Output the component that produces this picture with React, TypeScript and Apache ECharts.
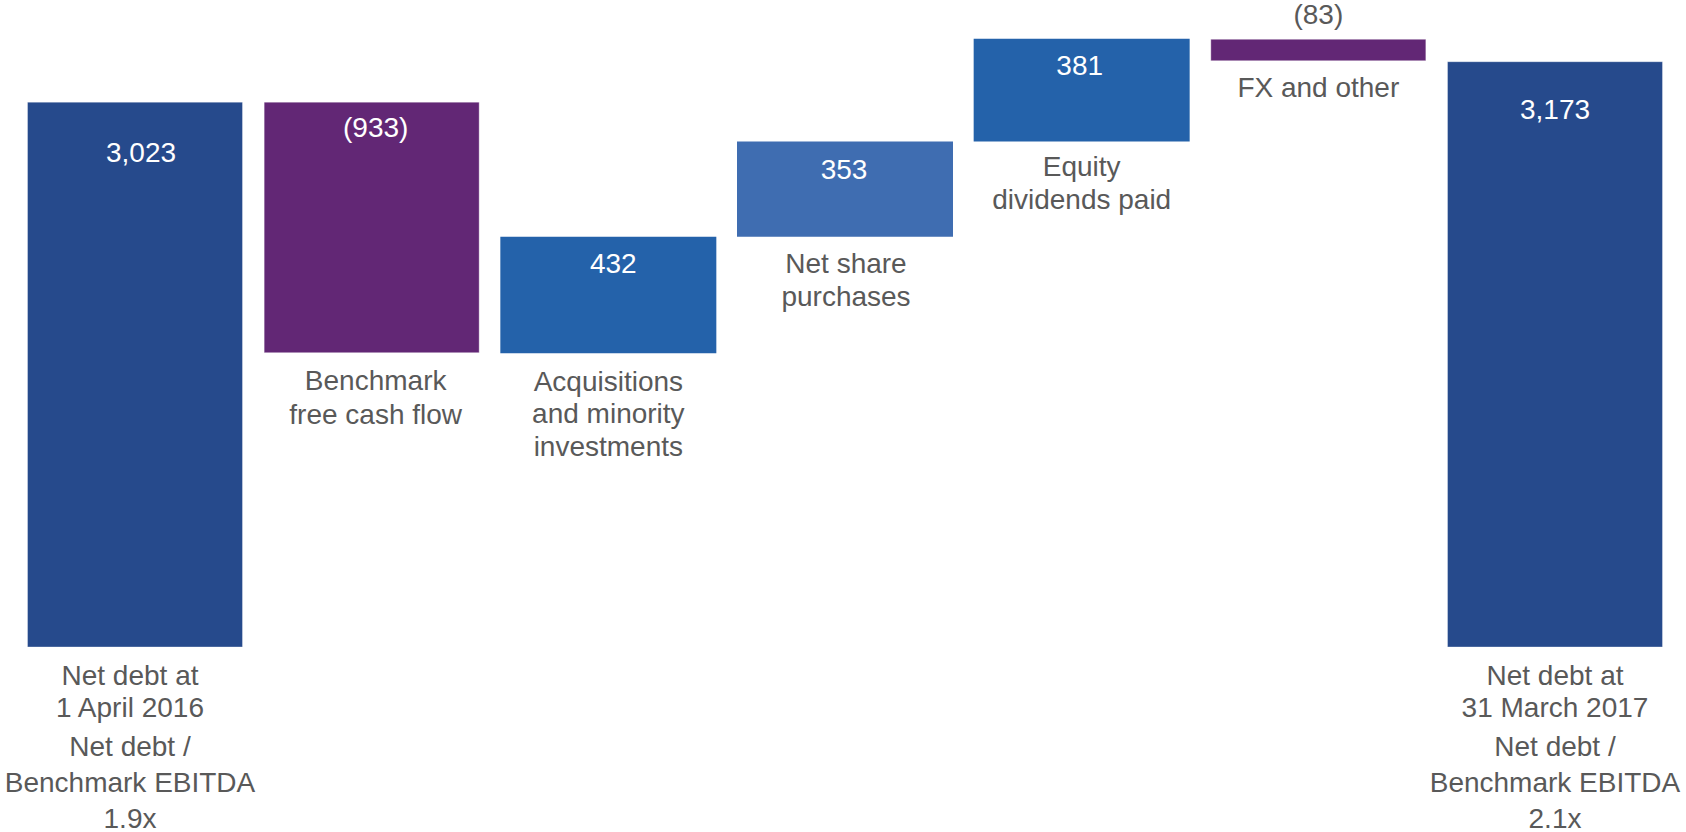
import React, { useEffect, useRef } from 'react';
import * as echarts from 'echarts';

const categories = [
  'Net debt at 1 April 2016',
  'Benchmark free cash flow',
  'Acquisitions and minority investments',
  'Net share purchases',
  'Equity dividends paid',
  'FX and other',
  'Net debt at 31 March 2017',
];
const categoryLabels = [
  'Net debt at\n1 April 2016',
  'Benchmark\nfree cash flow',
  'Acquisitions\nand minority\ninvestments',
  'Net share\npurchases',
  'Equity\ndividends paid',
  'FX and other',
  'Net debt at\n31 March 2017',
];
const ratioLines = [
  ['Net debt /', 'Benchmark EBITDA', '1.9x'],
  [],
  [],
  [],
  [],
  [],
  ['Net debt /', 'Benchmark EBITDA', '2.1x'],
];
const changes = [3023, -933, 432, 353, 381, -83, 3173];
const isTotal = [true, false, false, false, false, false, true];
const valueLabels = ['3,023', '(933)', '432', '353', '381', '(83)', '3,173'];
const barColors = ['#264a8c', '#622775', '#2462aa', '#3f6db1', '#2462aa', '#622775', '#264a8c'];

const FONT = 'Liberation Sans, Arial, Helvetica, sans-serif';
const GREY = '#595959';
const W = 1686;
const H = 832;

export default function App() {
  const ref = useRef<HTMLDivElement>(null);

  useEffect(() => {
    const chart = echarts.init(ref.current!, null, { renderer: 'svg', width: W, height: H });

    // waterfall levels
    const bases: (number | null)[] = [];
    const heights: (number | null)[] = [];
    let level = 0;
    changes.forEach((c, i) => {
      if (isTotal[i]) {
        level = c;
        bases.push(null);
        heights.push(null);
      } else {
        const prev = level;
        level = prev + c;
        bases.push(Math.min(prev, level));
        heights.push(Math.abs(c));
      }
    });

    const catDistance = [0, 11, 12, 10, 8, 10, 0];
    const catLineHeight = [0, 33.5, 32.5, 33.5, 33.5, 33.5, 0];
    const catOffsetX = [0, 4, 0, 1, 0, 0, 0];
    const valDistance = [34, 9, 10, 11, 10, 9, 31];
    const valOffsetX = [6, 4, 5, -1, -2, 0, 0];

    const borderFor = (i: number) =>
      barColors[i] === '#264a8c' || barColors[i] === '#622775'
        ? { borderColor: 'rgba(255,255,255,0.35)', borderWidth: 1 }
        : {};

    const baseData = categories.map((_, i) =>
      isTotal[i]
        ? '-'
        : {
            value: bases[i],
            label: {
              show: true,
              formatter: categoryLabels[i],
              distance: catDistance[i],
              lineHeight: catLineHeight[i],
              offset: [catOffsetX[i], 0],
            },
          }
    );

    const changeData = categories.map((_, i) =>
      isTotal[i]
        ? '-'
        : {
            value: heights[i],
            itemStyle: { color: barColors[i], ...borderFor(i) },
            label:
              i === 5
                ? {
                    show: true,
                    position: 'top',
                    color: GREY,
                    formatter: valueLabels[i],
                    distance: valDistance[i],
                    lineHeight: 30,
                    offset: [valOffsetX[i], 0],
                  }
                : {
                    show: true,
                    position: 'insideTop',
                    color: '#ffffff',
                    formatter: valueLabels[i],
                    distance: valDistance[i],
                    offset: [valOffsetX[i], 0],
                  },
          }
    );

    const totalData = categories.map((_, i) =>
      isTotal[i]
        ? {
            value: changes[i],
            itemStyle: { color: barColors[i], ...borderFor(i) },
            label: {
              show: true,
              position: 'insideTop',
              color: '#ffffff',
              formatter: valueLabels[i],
              distance: valDistance[i],
              offset: [valOffsetX[i], 0],
            },
          }
        : '-'
    );

    const option: any = {
      animation: false,
      grid: { left: 16.67, right: 12.67, top: 0, bottom: 175, containLabel: false },
      xAxis: {
        type: 'category',
        data: categories,
        axisLine: { show: false },
        axisTick: { show: false },
        axisLabel: {
          interval: 0,
          margin: 12,
          color: GREY,
          fontSize: 28,
          fontFamily: FONT,
          formatter: (_v: string, i: number) => {
            if (!isTotal[i]) return '';
            const sfx = i === 0 ? 'L' : '';
            const head = categoryLabels[i]
              .split('\n')
              .map((l) => `{a${sfx}|${l}}`)
              .join('\n');
            const tail = ratioLines[i].map((l) => `{b${sfx}|${l}}`).join('\n');
            return `${head}\n{g| }\n${tail}`;
          },
          rich: {
            a: { fontSize: 28, lineHeight: 32, color: GREY, fontFamily: FONT },
            aL: { fontSize: 28, lineHeight: 32, color: GREY, fontFamily: FONT, padding: [0, 10, 0, 0] },
            g: { fontSize: 4, lineHeight: 5 },
            b: { fontSize: 28, lineHeight: 36, color: GREY, fontFamily: FONT },
            bL: { fontSize: 28, lineHeight: 36, color: GREY, fontFamily: FONT, padding: [0, 10, 0, 0] },
          },
        },
      },
      yAxis: {
        type: 'value',
        min: 1000,
        max: 3400,
        show: false,
        splitLine: { show: false },
      },
      series: [
        {
          name: 'base',
          type: 'bar',
          stack: 'w',
          barWidth: 216,
          barGap: '-100%',
          silent: true,
          itemStyle: { color: 'rgba(0,0,0,0)' },
          label: {
            show: false,
            position: 'insideTop',
            color: GREY,
            fontSize: 28,
            fontFamily: FONT,
            lineHeight: 33.5,
          },
          data: baseData,
        },
        {
          name: 'change',
          type: 'bar',
          stack: 'w',
          barWidth: 216,
          barGap: '-100%',
          label: { fontSize: 28, fontFamily: FONT, lineHeight: 34 },
          data: changeData,
        },
        {
          name: 'total',
          type: 'bar',
          barWidth: 216,
          barGap: '-100%',
          label: { fontSize: 28, fontFamily: FONT, lineHeight: 34 },
          data: totalData,
        },
      ],
    };

    chart.setOption(option);
    return () => chart.dispose();
  }, []);

  return (
    <div
      ref={ref}
      style={{ position: 'fixed', left: 0, top: 0, width: W, height: H, background: '#ffffff' }}
    />
  );
}
